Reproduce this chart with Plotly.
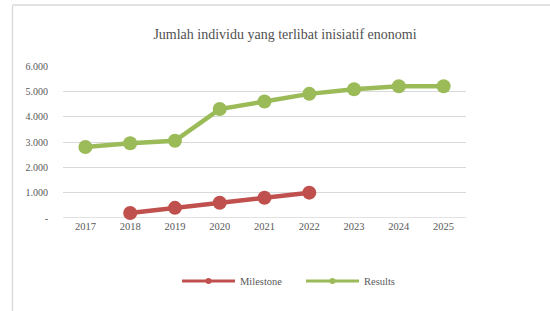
import plotly.graph_objects as go

years = ["2017", "2018", "2019", "2020", "2021", "2022", "2023", "2024", "2025"]
milestone = [None, 200, 400, 600, 800, 1000, None, None, None]
results = [2800, 2950, 3050, 4300, 4600, 4900, 5080, 5200, 5200]
y_tickvals = [0, 1000, 2000, 3000, 4000, 5000, 6000]
y_ticktext = ["-", "1.000", "2.000", "3.000", "4.000", "5.000", "6.000"]

RED = "#C0504D"
GREEN = "#9BBB59"
TXT = "#595959"
FONT = "Liberation Serif"

fig = go.Figure()
fig.add_trace(go.Scatter(x=years, y=milestone, mode="lines+markers", name="Milestone",
                         line=dict(color=RED, width=4.5), marker=dict(size=14, color=RED),
                         showlegend=False, cliponaxis=False, connectgaps=False))
fig.add_trace(go.Scatter(x=years, y=results, mode="lines+markers", name="Results",
                         line=dict(color=GREEN, width=4.5), marker=dict(size=14, color=GREEN),
                         showlegend=False, cliponaxis=False))
# legend entries
fig.add_trace(go.Scatter(x=[None], y=[None], mode="lines+markers", name="Milestone",
                         line=dict(color=RED, width=3), marker=dict(size=6, color=RED)))
fig.add_trace(go.Scatter(x=[None], y=[None], mode="lines+markers", name="Results",
                         line=dict(color=GREEN, width=3), marker=dict(size=6, color=GREEN)))

L, R, T, B = 63, 84, 66, 93
W, H = 550, 311
pw, ph = W - L - R, H - T - B

def px(x):
    return (x - L) / pw

def py(y):
    return (H - B - y) / ph

fig.update_layout(
    width=W, height=H,
    margin=dict(l=L, r=R, t=T, b=B),
    paper_bgcolor="white", plot_bgcolor="white",
    font=dict(family=FONT, color=TXT, size=10),
    title=dict(text="Jumlah individu yang terlibat inisiatif enonomi",
               x=285 / W, xanchor="center", y=1 - 34 / H, yanchor="middle",
               font=dict(family=FONT, size=14, color="#505050")),
    xaxis=dict(type="category", range=[-0.5, 8.5], showgrid=False, zeroline=False,
               showline=False, ticks="", tickfont=dict(size=10.5, color=TXT)),
    yaxis=dict(range=[0, 6000], tickvals=y_tickvals, ticktext=y_ticktext,
               showgrid=True, gridcolor="#D9D9D9", gridwidth=1.3, zeroline=False,
               showline=False, ticks="", ticklabelstandoff=14,
               tickfont=dict(size=10, color=TXT)),
    legend=dict(orientation="h", x=px(177), xanchor="left", y=py(281),
                yanchor="middle", font=dict(size=10.5, color=TXT),
                bgcolor="rgba(0,0,0,0)", itemwidth=53, entrywidth=56,
                entrywidthmode="pixels"),
    showlegend=True,
    shapes=[
        dict(type="line", xref="paper", yref="paper", x0=px(12.5), x1=px(560),
             y0=py(5), y1=py(5), line=dict(color="#D9D9D9", width=1.3)),
        dict(type="line", xref="paper", yref="paper", x0=px(12.5), x1=px(12.5),
             y0=py(5), y1=py(320), line=dict(color="#D9D9D9", width=1.3)),
        dict(type="line", xref="paper", yref="y", x0=0, x1=1, y0=0, y1=0,
             line=dict(color="#D9D9D9", width=1.3), layer="below"),
    ],
)

fig.write_html("out.html", config={"displayModeBar": False},
               post_script="document.body.style.margin='0';")
